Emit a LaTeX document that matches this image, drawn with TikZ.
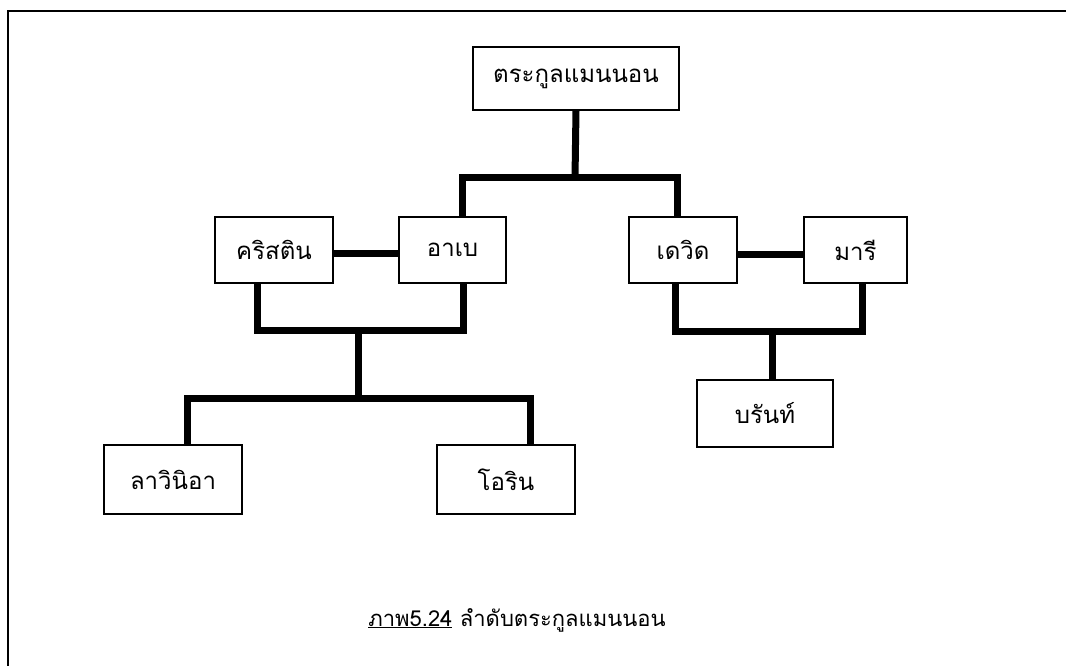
\documentclass[tikz,border=0pt]{standalone}
\usepackage{fontspec}
\newfontfamily\thaifont[Script=Thai]{Loma}

\begin{document}
\begin{tikzpicture}[x=1pt,y=-1pt,font=\thaifont\fontsize{24}{28}\selectfont,
  person/.style={draw,line width=1.5pt,minimum height=66pt,inner sep=0pt},
  link/.style={line width=7pt,line join=miter}]
  \useasboundingbox (0,0) rectangle (1066,666);
  % frame
  \draw[line width=2pt] (1066,11) -- (8,11) -- (8,666);

  % family members
  \node[person,minimum width=206pt,minimum height=63pt] (top) at (576,78.5) {ตระกูลแมนนอน};
  \node[person,minimum width=118pt] (kristin) at (274,250) {คริสติน};
  \node[person,minimum width=107pt] (abe) at (452.5,250) {อาเบ};
  \node[person,minimum width=108pt] (david) at (683,250) {เดวิด};
  \node[person,minimum width=103pt] (mari) at (855.5,250) {มารี};
  \node[person,minimum width=138pt,minimum height=69pt] (lavinia) at (173,479.5) {ลาวินิอา};
  \node[person,minimum width=138pt,minimum height=69pt] (orin) at (506,479.5) {โอริน};
  \node[person,minimum width=136pt,minimum height=67pt] (brant) at (765,413.5) {บรันท์};

  % junctions
  \coordinate (j1) at (575,178);
  \coordinate (j2) at (358,330);
  \coordinate (j3) at (358,398);
  \coordinate (j4) at (772,331.5);

  % top level
  \draw[link] (top.south) -- (j1);
  \draw[link] ([xshift=9.5pt]abe.north) |- (j1) -| ([xshift=-6pt]david.north);
  % couples
  \draw[link] ([yshift=-3pt]kristin.east) -- ([yshift=-3pt]abe.west);
  \draw[link] ([yshift=-4pt]david.east) -- ([yshift=-4pt]mari.west);
  % children left
  \draw[link] ([xshift=-17pt]kristin.south) |- (j2) -| ([xshift=10.5pt]abe.south);
  \draw[link] (j2) -- (j3);
  \draw[link] ([xshift=14pt]lavinia.north) |- (j3) -| ([xshift=24pt]orin.north);
  % children right
  \draw[link] ([xshift=-8pt]david.south) |- (j4) -| ([xshift=6.5pt]mari.south);
  \draw[link] (j4) -- ([xshift=7pt]brant.north);

  % caption
  \node[font=\thaifont\fontsize{22}{26}\selectfont] (caption) at (517,620) {\underline{ภาพ5.24} ลำดับตระกูลแมนนอน};
\end{tikzpicture}
\end{document}
